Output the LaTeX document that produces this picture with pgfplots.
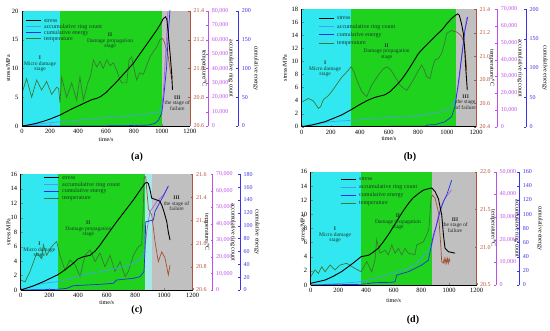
\documentclass[border=0pt]{standalone}
\usepackage{pgfplots}
\pgfplotsset{compat=1.18}
\usepackage{fontspec}
\setmainfont{Liberation Serif}
\definecolor{regI}{RGB}{50,232,240}
\definecolor{regII}{RGB}{30,210,30}
\definecolor{regIII}{RGB}{192,192,192}
\definecolor{regS}{RGB}{165,232,232}
\definecolor{cring}{RGB}{70,160,230}
\definecolor{cringIII}{RGB}{175,95,230}
\definecolor{cenergy}{RGB}{35,45,225}
\definecolor{ctemp}{RGB}{60,120,55}
\definecolor{ctempIII}{RGB}{165,80,50}
\definecolor{axtemp}{RGB}{180,80,60}
\definecolor{axring}{RGB}{190,80,230}
\definecolor{axenergy}{RGB}{60,50,230}
\definecolor{ctext}{RGB}{25,60,40}
\tikzset{rtext/.style={font=\fontsize{5.5}{5.5}\selectfont, align=center, text=ctext},
         plab/.style={font=\bfseries\fontsize{10}{10}\selectfont}}
\pgfplotsset{
  every axis/.append style={scale only axis, anchor=south west,
    /pgf/number format/assume math mode=true,
    tick label style={font=\fontsize{6}{6}\selectfont},
    label style={font=\fontsize{6}{7}\selectfont},
    major tick length=2pt, xmin=0, xmax=1200},
  main/.style={axis x line*=bottom, axis y line*=left, axis line style={-, line width=0.6pt},
    xtick={0,200,...,1200}, tick align=inside, xlabel={time/s}, ylabel={stress/MPa},
    tick label style={font=\fontsize{6.5}{6.5}\selectfont},
    /pgf/number format/1000 sep={},
    legend cell align=left,
    legend image code/.code={\draw[##1] (0pt,0pt) -- (15pt,0pt);},
    legend style={draw=none, fill=none, anchor=north west, font=\fontsize{6}{6}\selectfont,
      text=ctext, inner sep=0pt, nodes={inner sep=0pt, text height=4.5pt, text depth=1pt},
      /tikz/every odd column/.style={column sep=3pt}}},
  temp/.style={hide x axis, axis y line*=right, axis line style={-},
    y axis line style={axtemp, line width=0.6pt}, ytick style={axtemp}, yticklabel style={text=axtemp},
    ylabel={temperature/°C},
    /pgf/number format/fixed, /pgf/number format/fixed zerofill, /pgf/number format/precision=1},
  sc/.style={width=10pt, xmin=0, xmax=1, hide x axis, axis y line*=right, axis line style={-},
    y axis line style={#1, line width=0.7pt}, ytick style={#1}, yticklabel style={text=#1},
    scaled y ticks=false, /pgf/number format/fixed, /pgf/number format/1000 sep={,}},
  rl/.style={ylabel style={at={(axis description cs:#1,0.5)}, anchor=center, rotate=180}},
}
\begin{document}
\begin{tikzpicture}
\useasboundingbox (0pt,0pt) rectangle (550pt,330pt);
% ================= (a) =================
\begin{axis}[hide axis, at={(22pt,204pt)}, width=168pt, height=115pt, ymin=0, ymax=20]
\addplot[draw=none, fill=regI] coordinates {(0,20) (271,20)} \closedcycle;
\addplot[draw=none, fill=regII] coordinates {(271,20) (1000,20)} \closedcycle;
\addplot[draw=none, fill=regIII] coordinates {(1000,20) (1200,20)} \closedcycle;
\end{axis}
\begin{axis}[temp, rl=1.083, at={(22pt,204pt)}, width=168pt, height=115pt, ymin=20.6, ymax=21.4, ytick={20.6,20.8,21.0,21.2,21.4}]
\addplot[ctemp, line width=0.7pt] coordinates {(0,20.83) (33,20.93) (69,20.80) (105,20.92) (140,20.85) (176,20.91) (212,20.82) (248,20.87) (262,20.86) (271,20.76) (283,20.94) (319,20.80) (355,20.9) (390,20.78) (414,20.94) (438,20.78) (470,20.9) (490,20.95) (510,21.06) (535,21.01) (557,21.05) (580,21.0) (605,21.06) (630,21.02) (652,21.04) (680,20.98) (700,20.92) (715,20.9) (748,20.9) (765,21.06) (783,21.08) (800,21.0) (819,20.92) (840,20.97) (867,20.96) (890,21.02) (914,21.08) (940,21.12) (962,21.15) (985,21.2) (1000,21.21)};
\addplot[ctempIII, line width=0.7pt] coordinates {(1000,21.21) (1010,21.2) (1021,21.17) (1045,21.08) (1060,20.98) (1069,20.93) (1075,20.95)};
\end{axis}
\begin{axis}[hide axis, at={(22pt,204pt)}, width=168pt, height=115pt, ymin=0, ymax=80000]
\addplot[cring, line width=0.7pt] coordinates {(0,0) (100,1200) (271,3000) (400,4000) (500,5000) (600,5800) (700,6500) (800,7300) (900,8300) (970,9300) (990,11000) (1000,14000)};
\addplot[cringIII, line width=0.7pt] coordinates {(1000,14000) (1010,24000) (1020,40000) (1035,65000) (1045,85000)};
\end{axis}
\begin{axis}[hide axis, at={(22pt,204pt)}, width=168pt, height=115pt, ymin=0, ymax=200]
\addplot[cenergy, line width=0.7pt] coordinates {(0,0) (700,0.3) (900,1.5) (950,4.6) (975,10) (998,22) (1010,45) (1033,103) (1045,161) (1062,219)};
\end{axis}
\begin{axis}[main, at={(22pt,204pt)}, width=168pt, height=115pt, ymin=0, ymax=20, ytick={0,5,...,20},
  xlabel style={at={(axis description cs:0.5,-0.122)}, anchor=center},
  ylabel style={at={(axis description cs:-0.083,0.5)}, anchor=center},
  legend style={at={(0.018,0.942)}, row sep=0.5pt}]
\addplot[black, line width=0.9pt] coordinates {(0,0) (50,0.2) (100,0.45) (150,0.8) (200,1.2) (271,1.9) (350,2.9) (438,3.9) (500,4.6) (533,4.8) (560,5.1) (600,5.8) (676,7.7) (740,9.4) (795,10.9) (850,12.8) (914,15.0) (960,16.6) (986,17.6) (1010,18.7) (1026,19.0) (1035,18.5) (1045,16.0) (1058,12.5) (1069,9.2) (1075,6.3)};
\addlegendentry{stress}
\addlegendimage{cring, line width=0.7pt}\addlegendentry{accumulative ring count}
\addlegendimage{cenergy, line width=0.7pt}\addlegendentry{cumulative energy}
\addlegendimage{ctemp, line width=0.7pt}\addlegendentry{temperature}
\node[rtext] at (axis cs:129,10.8) {\textbf{I}\\Micro damage\\stage};
\node[rtext] at (axis cs:629,14.8) {\textbf{II}\\Damage propagation\\stage};
\node[rtext, text=black!85] at (axis cs:1110,4.0) {\textbf{III}\\the stage of\\failure};
\end{axis}
\begin{axis}[sc=axring, rl=3.27, at={(198.3pt,204pt)}, height=115pt, ymin=0, ymax=80000, ytick={0,10000,...,80000}, ylabel={accumulative ring count}]
\addplot[draw=none] coordinates {(0,0)};
\end{axis}
\begin{axis}[sc=axenergy, rl=2.77, at={(228.3pt,204pt)}, height=115pt, ymin=0, ymax=200, ytick={0,50,...,200}, ylabel={cumulative energy}]
\addplot[draw=none] coordinates {(0,0)};
\end{axis}
\node[plab] at (137pt,173pt) {(a)};
% ================= (b) =================
\begin{axis}[hide axis, at={(301.7pt,203.3pt)}, width=174.3pt, height=117.4pt, ymin=0, ymax=18]
\addplot[draw=none, fill=regI] coordinates {(0,18) (340,18)} \closedcycle;
\addplot[draw=none, fill=regII] coordinates {(340,18) (1062,18)} \closedcycle;
\addplot[draw=none, fill=regIII] coordinates {(1062,18) (1200,18)} \closedcycle;
\end{axis}
\begin{axis}[temp, rl=1.090, at={(301.7pt,203.3pt)}, width=174.3pt, height=117.4pt, ymin=20.4, ymax=21.4, ytick={20.4,20.6,20.8,21.0,21.2,21.4}]
\addplot[ctemp, line width=0.7pt] coordinates {(0,20.61) (46,20.64) (80,20.62) (115,20.556) (130,20.57) (149,20.63) (180,20.66) (207,20.70) (230,20.74) (252,20.78) (275,20.82) (298,20.85) (320,20.88) (340,20.91) (360,20.87) (379,20.80) (413,20.70) (448,20.656) (482,20.755) (528,20.84) (560,20.89) (585,20.91) (610,20.89) (631,20.85) (677,20.755) (700,20.73) (723,20.71) (745,20.75) (769,20.80) (800,20.87) (826,20.925) (845,20.88) (860,20.826) (883,20.81) (900,20.9) (918,20.97) (940,20.98) (964,21.025) (985,21.12) (998,21.195) (1032,21.22) (1050,21.21) (1062,21.21)};
\addplot[ctempIII, line width=0.7pt] coordinates {(1062,21.21) (1085,21.19) (1101,21.17) (1115,21.12) (1124,21.05) (1132,20.95) (1136,20.88)};
\end{axis}
\begin{axis}[hide axis, at={(301.7pt,203.3pt)}, width=174.3pt, height=117.4pt, ymin=0, ymax=70000]
\addplot[cring, line width=0.7pt] coordinates {(0,0) (100,1800) (200,3000) (340,3800) (505,4972) (600,5400) (734,5966) (850,7200) (964,8949) (1010,10937) (1044,13920) (1062,16903)};
\addplot[cringIII, line width=0.7pt] coordinates {(1062,16903) (1080,25000) (1100,40000) (1120,55000) (1136,65000)};
\end{axis}
\begin{axis}[hide axis, at={(301.7pt,203.3pt)}, width=174.3pt, height=117.4pt, ymin=0, ymax=200]
\addplot[cenergy, line width=0.7pt] coordinates {(0,0) (500,0.5) (850,0.8) (870,3) (918,3.5) (987,8.5) (1032,17) (1055,34) (1078,74) (1101,119) (1124,165) (1143,187)};
\end{axis}
\begin{axis}[main, at={(301.7pt,203.3pt)}, width=174.3pt, height=117.4pt, ymin=0, ymax=18, ytick={0,2,...,18},
  xlabel style={at={(axis description cs:0.5,-0.105)}, anchor=center},
  ylabel style={at={(axis description cs:-0.096,0.5)}, anchor=center},
  legend style={at={(0.094,0.951)}, row sep=2.8pt}]
\addplot[black, line width=0.9pt] coordinates {(0,0) (80,0.3) (161,0.77) (220,1.3) (275,1.8) (340,2.6) (400,3.4) (459,4.1) (505,4.5) (574,4.9) (610,5.4) (642,6.1) (690,7.3) (734,8.7) (770,10.0) (803,11.2) (840,12.1) (872,12.8) (920,13.9) (964,14.8) (1000,15.8) (1032,16.6) (1060,17.1) (1074,17.3) (1085,17.1) (1100,15.8) (1113,14.3) (1122,12) (1129,9.2) (1140,5.6)};
\addlegendentry{stress}
\addlegendimage{cring, line width=0.7pt}\addlegendentry{accumulative ring count}
\addlegendimage{cenergy, line width=0.7pt}\addlegendentry{cumulative energy}
\addlegendimage{ctemp, line width=0.7pt}\addlegendentry{temperature}
\node[rtext] at (axis cs:161,8.85) {\textbf{I}\\Micro damage\\stage};
\node[rtext] at (axis cs:585,11.5) {\textbf{II}\\Damage propagation\\stage};
\node[rtext, text=black!85] at (axis cs:1129,3.8) {\textbf{III}\\the stage\\of failure};
\end{axis}
\begin{axis}[sc=axring, rl=3.27, at={(487.3pt,203.3pt)}, height=117.4pt, ymin=0, ymax=70000, ytick={0,10000,...,70000}, ylabel={accumulative ring count}]
\addplot[draw=none] coordinates {(0,0)};
\end{axis}
\begin{axis}[sc=axenergy, rl=2.9, at={(516pt,203.3pt)}, height=117.4pt, ymin=0, ymax=200, ytick={0,50,...,200}, ylabel={cumulative energy}]
\addplot[draw=none] coordinates {(0,0)};
\end{axis}
\node[plab] at (410pt,173pt) {(b)};
% ================= (c) =================
\begin{axis}[hide axis, at={(20.7pt,40pt)}, width=172pt, height=115.7pt, ymin=0, ymax=16]
\addplot[draw=none, fill=regI] coordinates {(0,16) (258,16)} \closedcycle;
\addplot[draw=none, fill=regII] coordinates {(258,16) (867,16)} \closedcycle;
\addplot[draw=none, fill=regS] coordinates {(867,16) (914,16)} \closedcycle;
\addplot[draw=none, fill=regIII] coordinates {(914,16) (1200,16)} \closedcycle;
\end{axis}
\begin{axis}[temp, rl=1.081, at={(20.7pt,40pt)}, width=172pt, height=115.7pt, ymin=20.6, ymax=21.6, ytick={20.6,20.8,21.0,21.2,21.4,21.6}]
\addplot[ctemp, line width=0.7pt] coordinates {(0,20.686) (30,20.67) (65,20.76) (112,20.92) (147,20.87) (158,20.99) (181,20.90) (216,20.975) (251,21.02) (274,20.90) (309,20.77) (344,20.86) (379,20.82) (414,20.715) (449,20.90) (484,20.946) (519,20.845) (553,20.92) (588,20.80) (623,20.90) (658,20.76) (693,20.845) (728,20.715) (751,20.76) (786,20.90) (821,20.975) (844,20.99) (855,21.3) (860,21.565) (867,21.58)};
\addplot[ctempIII, line width=0.7pt] coordinates {(867,21.58) (872,21.58) (891,21.3) (914,21.25) (937,21.02) (960,20.845) (984,20.93) (1007,20.875) (1030,20.73) (1042,20.816)};
\end{axis}
\begin{axis}[hide axis, at={(20.7pt,40pt)}, width=172pt, height=115.7pt, ymin=0, ymax=70000]
\addplot[cring, line width=0.7pt] coordinates {(0,0) (80,2500) (158,4035) (258,5043) (350,7000) (437,9078) (550,11000) (670,13112) (750,15000) (809,17147) (856,21182) (867,25000)};
\addplot[cringIII, line width=0.7pt] coordinates {(867,25000) (879,35302) (902,47406) (949,53458) (995,57493) (1030,62536)};
\end{axis}
\begin{axis}[hide axis, at={(20.7pt,40pt)}, width=172pt, height=115.7pt, ymin=0, ymax=180]
\addplot[cenergy, line width=0.7pt] coordinates {(0,0) (150,0.5) (250,1) (321,2.6) (367,6.7) (553,8.8) (647,10.4) (670,15.6) (786,18.2) (833,20.7) (860,28.5) (867,60) (872,106) (926,109) (937,122) (972,137) (1000,148) (1030,162)};
\end{axis}
\begin{axis}[main, at={(20.7pt,40pt)}, width=172pt, height=115.7pt, ymin=0, ymax=16, ytick={0,2,...,16},
  xlabel style={at={(axis description cs:0.5,-0.108)}, anchor=center},
  ylabel style={at={(axis description cs:-0.072,0.5)}, anchor=center},
  legend style={at={(0.13,0.995)}, row sep=1.2pt}]
\addplot[black, line width=0.9pt] coordinates {(0,0) (80,0.5) (158,1.15) (258,2.1) (310,2.8) (367,3.7) (400,4.3) (437,4.6) (484,4.8) (520,5.4) (553,6.2) (610,7.8) (670,9.45) (730,11) (786,12.45) (833,13.8) (867,14.75) (880,14.9) (891,14.7) (903,13.8) (914,12.7) (949,12.45) (970,12.3) (984,11.75) (1000,10.8) (1019,9.45) (1030,8) (1042,6.9)};
\addlegendentry{stress}
\addlegendimage{cring, line width=0.7pt}\addlegendentry{accumulative ring count}
\addlegendimage{cenergy, line width=0.7pt}\addlegendentry{cumulative energy}
\addlegendimage{ctemp, line width=0.7pt}\addlegendentry{temperature}
\node[rtext] at (axis cs:130,5.5) {\textbf{I}\\Micro damage\\stage};
\node[rtext] at (axis cs:472,8.4) {\textbf{II}\\Damage propagation\\stage};
\node[rtext, text=black!85] at (axis cs:1088,12.0) {\textbf{III}\\the stage of\\failure};
\end{axis}
\begin{axis}[sc=axring, rl=3.03, at={(202.7pt,40pt)}, height=115.7pt, ymin=0, ymax=70000, ytick={0,10000,...,70000}, ylabel={accumulative ring count}]
\addplot[draw=none] coordinates {(0,0)};
\end{axis}
\begin{axis}[sc=axenergy, rl=2.7, at={(230pt,40pt)}, height=115.7pt, ymin=0, ymax=180, ytick={0,20,...,180}, ylabel={cumulative energy}]
\addplot[draw=none] coordinates {(0,0)};
\end{axis}
\node[plab] at (137pt,20pt) {(c)};
% ================= (d) =================
\begin{axis}[hide axis, at={(310.7pt,45pt)}, width=166pt, height=113.3pt, ymin=0, ymax=16]
\addplot[draw=none, fill=regI] coordinates {(0,16) (364,16)} \closedcycle;
\addplot[draw=none, fill=regII] coordinates {(364,16) (875,16)} \closedcycle;
\addplot[draw=none, fill=regIII] coordinates {(875,16) (1200,16)} \closedcycle;
\end{axis}
\begin{axis}[temp, rl=1.098, at={(310.7pt,45pt)}, width=166pt, height=113.3pt, ymin=20.5, ymax=22.0, ytick={20.5,21.0,21.5,22.0}]
\addplot[ctemp, line width=0.7pt] coordinates {(0,20.61) (31,20.7) (55,20.654) (80,20.74) (104,20.676) (140,20.765) (176,20.70) (212,20.765) (260,20.787) (320,20.72) (364,20.676) (405,20.81) (441,20.676) (465,20.83) (477,21.1) (501,20.92) (537,20.96) (561,20.9) (586,21.03) (610,20.92) (634,20.985) (658,20.9) (682,20.985) (706,20.92) (754,20.9) (766,21.03) (814,21.07) (838,21.16) (855,21.25) (870,21.65) (875,21.67)};
\addplot[ctempIII, line width=0.7pt] coordinates {(875,21.67) (880,21.69) (899,21.65) (923,21.47) (940,21.03) (947,20.81) (959,20.79) (965,20.85) (971,20.79) (977,20.85) (983,20.79) (989,20.85) (995,20.79) (1001,20.85) (1007,20.81)};
\end{axis}
\begin{axis}[hide axis, at={(310.7pt,45pt)}, width=166pt, height=113.3pt, ymin=0, ymax=50000]
\addplot[cring, line width=0.7pt] coordinates {(0,0) (224,735) (364,1470) (465,2941) (586,5147) (706,7353) (778,10294) (851,15441) (875,17647)};
\addplot[cringIII, line width=0.7pt] coordinates {(875,17647) (899,23529) (923,30882) (947,35294) (971,38235) (1007,41176) (1019,41912)};
\end{axis}
\begin{axis}[hide axis, at={(310.7pt,45pt)}, width=166pt, height=113.3pt, ymin=0, ymax=160]
\addplot[cenergy, line width=0.7pt] coordinates {(0,0) (364,0.9) (465,3.3) (586,3.8) (610,4.7) (622,14) (706,18.8) (802,28) (851,35) (863,47) (887,70.6) (910,84.7) (935,103.5) (959,117.6) (983,127) (1007,141) (1019,148)};
\end{axis}
\begin{axis}[main, at={(310.7pt,45pt)}, width=166pt, height=113.3pt, ymin=0, ymax=16, ytick={0,2,...,16},
  xlabel style={at={(axis description cs:0.5,-0.141)}, anchor=center},
  ylabel style={at={(axis description cs:-0.048,0.5)}, anchor=center},
  legend style={at={(0.177,0.962)}, row sep=2.5pt}]
\addplot[black, line width=0.9pt] coordinates {(0,0.24) (104,0.7) (160,1.2) (224,1.9) (280,2.7) (320,3.3) (364,4.0) (417,4.2) (450,4.6) (489,5.2) (525,6.1) (561,7.1) (600,8.3) (634,9.4) (670,10.5) (706,11.5) (740,12.3) (778,12.9) (815,13.4) (851,13.6) (875,13.7) (899,13.2) (923,12.2) (947,9.9) (960,7) (971,5.2) (995,4.7) (1020,4.6) (1043,4.5)};
\addlegendentry{stress}
\addlegendimage{cring, line width=0.7pt}\addlegendentry{accumulative ring count}
\addlegendimage{cenergy, line width=0.7pt}\addlegendentry{cumulative energy}
\addlegendimage{ctemp, line width=0.7pt}\addlegendentry{temperature}
\node[rtext] at (axis cs:176,7.06) {\textbf{I}\\Micro damage\\stage};
\node[rtext] at (axis cs:631,8.9) {\textbf{II}\\Damage propagation\\stage};
\node[rtext, text=black!85] at (axis cs:1043,8.47) {\textbf{III}\\the stage of\\failure};
\end{axis}
\begin{axis}[sc=axring, rl=3.1, at={(486pt,45pt)}, height=113.3pt, ymin=0, ymax=50000, ytick={0,10000,...,50000}, ylabel={accumulative ring count}]
\addplot[draw=none] coordinates {(0,0)};
\end{axis}
\begin{axis}[sc=axenergy, rl=3.07, at={(509.3pt,45pt)}, height=113.3pt, ymin=0, ymax=160, ytick={0,20,...,160}, ylabel={cumulative energy}]
\addplot[draw=none] coordinates {(0,0)};
\end{axis}
\node[plab] at (413pt,10pt) {(d)};
\end{tikzpicture}
\end{document}
